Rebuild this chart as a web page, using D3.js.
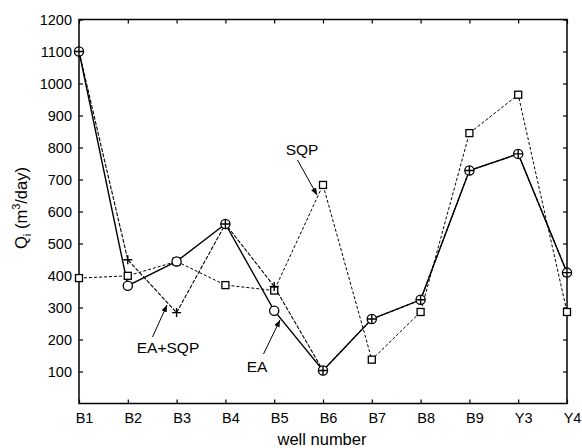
<!DOCTYPE html>
<html><head><meta charset="utf-8">
<script src="https://cdn.jsdelivr.net/npm/d3@7"></script>
<style>body{margin:0;background:#fff;} svg{display:block;} text{font-family:"Liberation Sans",Arial,sans-serif;fill:#000;}</style>
</head><body>
<script>
const categories = ["B1","B2","B3","B4","B5","B6","B7","B8","B9","Y3","Y4"];
const eaValues     = [1100, 368, 444, 561, 290, 103, 264, 324, 728, 780, 409];
const eaSqpValues  = [1100, 449, 284, 561, 366, 103, 264, 324, 728, 780, 409];
const sqpValues    = [392, 399, 444, 370, 353, 683, 137, 286, 845, 965, 286];
const yTicks = [100,200,300,400,500,600,700,800,900,1000,1100,1200];

(function(){
const W = 582, H = 448;
const m = {left:79, right:15, top:19.5, bottom:44.5};
const svg = d3.select("body").append("svg").attr("width",W).attr("height",H);

const x = d3.scalePoint().domain(categories).range([m.left, W - m.right]);
const y = d3.scaleLinear().domain([0,1200]).range([H - m.bottom, m.top]);

const x0 = m.left, x1 = W - m.right, y0 = H - m.bottom, y1 = m.top;

const gBottom = svg.append("g").attr("transform",`translate(0,${y0})`)
  .call(d3.axisBottom(x).tickSizeInner(-4).tickSizeOuter(0).tickPadding(9));
gBottom.selectAll("text").attr("dx",5).style("font-size","14.5px");
svg.append("g").attr("transform",`translate(0,${y1})`)
  .call(d3.axisTop(x).tickSizeInner(-4).tickSizeOuter(0).tickFormat(""));
const gLeft = svg.append("g").attr("transform",`translate(${x0},0)`)
  .call(d3.axisLeft(y).tickValues(yTicks).tickFormat(d3.format("d")).tickSizeInner(-4).tickSizeOuter(0).tickPadding(7));
gLeft.selectAll("text").style("font-size","14.5px");
svg.append("g").attr("transform",`translate(${x1},0)`)
  .call(d3.axisRight(y).tickValues(yTicks).tickSizeInner(-4).tickSizeOuter(0).tickFormat(""));
svg.selectAll(".domain").remove();
svg.selectAll(".tick line").attr("stroke","#000").attr("stroke-width",1.2);
svg.selectAll(".tick text").attr("fill","#000").style("font-family","'Liberation Sans',Arial,sans-serif");
svg.append("rect").attr("x",x0).attr("y",y1).attr("width",x1-x0).attr("height",y0-y1)
  .attr("fill","none").attr("stroke","#000").attr("stroke-width",1.5);

svg.append("text").attr("x",322).attr("y",445).attr("text-anchor","middle")
  .style("font-size","16.5px").text("well number");
const yl = svg.append("text").attr("transform","translate(27,208) rotate(-90)")
  .attr("text-anchor","middle").style("font-size","16.5px");
yl.append("tspan").text("Q");
yl.append("tspan").attr("dy",4).style("font-size","11px").text("i");
yl.append("tspan").attr("dy",-4).text(" (m");
yl.append("tspan").attr("dy",-7).style("font-size","11px").text("3");
yl.append("tspan").attr("dy",7).text("/day)");

const line = d3.line().x((d,i)=>x(categories[i])).y(d=>y(d));
svg.append("path").datum(sqpValues).attr("d",line).attr("fill","none")
  .attr("stroke","#000").attr("stroke-width",1).attr("stroke-dasharray","3,2");
svg.append("path").datum(eaSqpValues).attr("d",line).attr("fill","none")
  .attr("stroke","#000").attr("stroke-width",1.1).attr("stroke-dasharray","4,1.5");
svg.append("path").datum(eaValues).attr("d",line).attr("fill","none")
  .attr("stroke","#000").attr("stroke-width",1.4);

svg.append("g").selectAll("rect").data(sqpValues).join("rect")
  .attr("x",(d,i)=>x(categories[i])-3.5).attr("y",d=>y(d)-3.5)
  .attr("width",7).attr("height",7).attr("fill","#fff").attr("stroke","#000").attr("stroke-width",1.3);
svg.append("g").selectAll("circle").data(eaValues).join("circle")
  .attr("cx",(d,i)=>x(categories[i])).attr("cy",d=>y(d)).attr("r",4.6)
  .attr("fill","#fff").attr("stroke","#000").attr("stroke-width",1.3);
svg.append("g").selectAll("path").data(eaSqpValues).join("path")
  .attr("d",(d,i)=>{const cx=x(categories[i]), cy=y(d); return `M${cx-4.5},${cy}H${cx+4.5}M${cx},${cy-4.5}V${cy+4.5}`;})
  .attr("stroke","#000").attr("stroke-width",1.4).attr("fill","none");

svg.append("defs").append("marker").attr("id","ah").attr("viewBox","0 0 10 10")
  .attr("refX",10).attr("refY",5).attr("markerWidth",7).attr("markerHeight",7)
  .attr("orient","auto").attr("markerUnits","userSpaceOnUse")
  .append("path").attr("d","M0,1L10,5L0,9Z").attr("fill","#000");
function annot(label, tx, ty, ax0, ay0, ax1, ay1){
  svg.append("text").attr("x",tx).attr("y",ty).attr("text-anchor","middle").style("font-size","15.5px").text(label);
  svg.append("line").attr("x1",ax0).attr("y1",ay0).attr("x2",ax1).attr("y2",ay1)
    .attr("stroke","#000").attr("stroke-width",1).attr("marker-end","url(#ah)");
}
annot("SQP", 302, 155, 297.5, 160, 317, 195);
annot("EA", 257, 371.5, 263.5, 354, 280, 320);
annot("EA+SQP", 168, 353, 152.5, 337, 167, 305);
})();
</script>
</body></html>
